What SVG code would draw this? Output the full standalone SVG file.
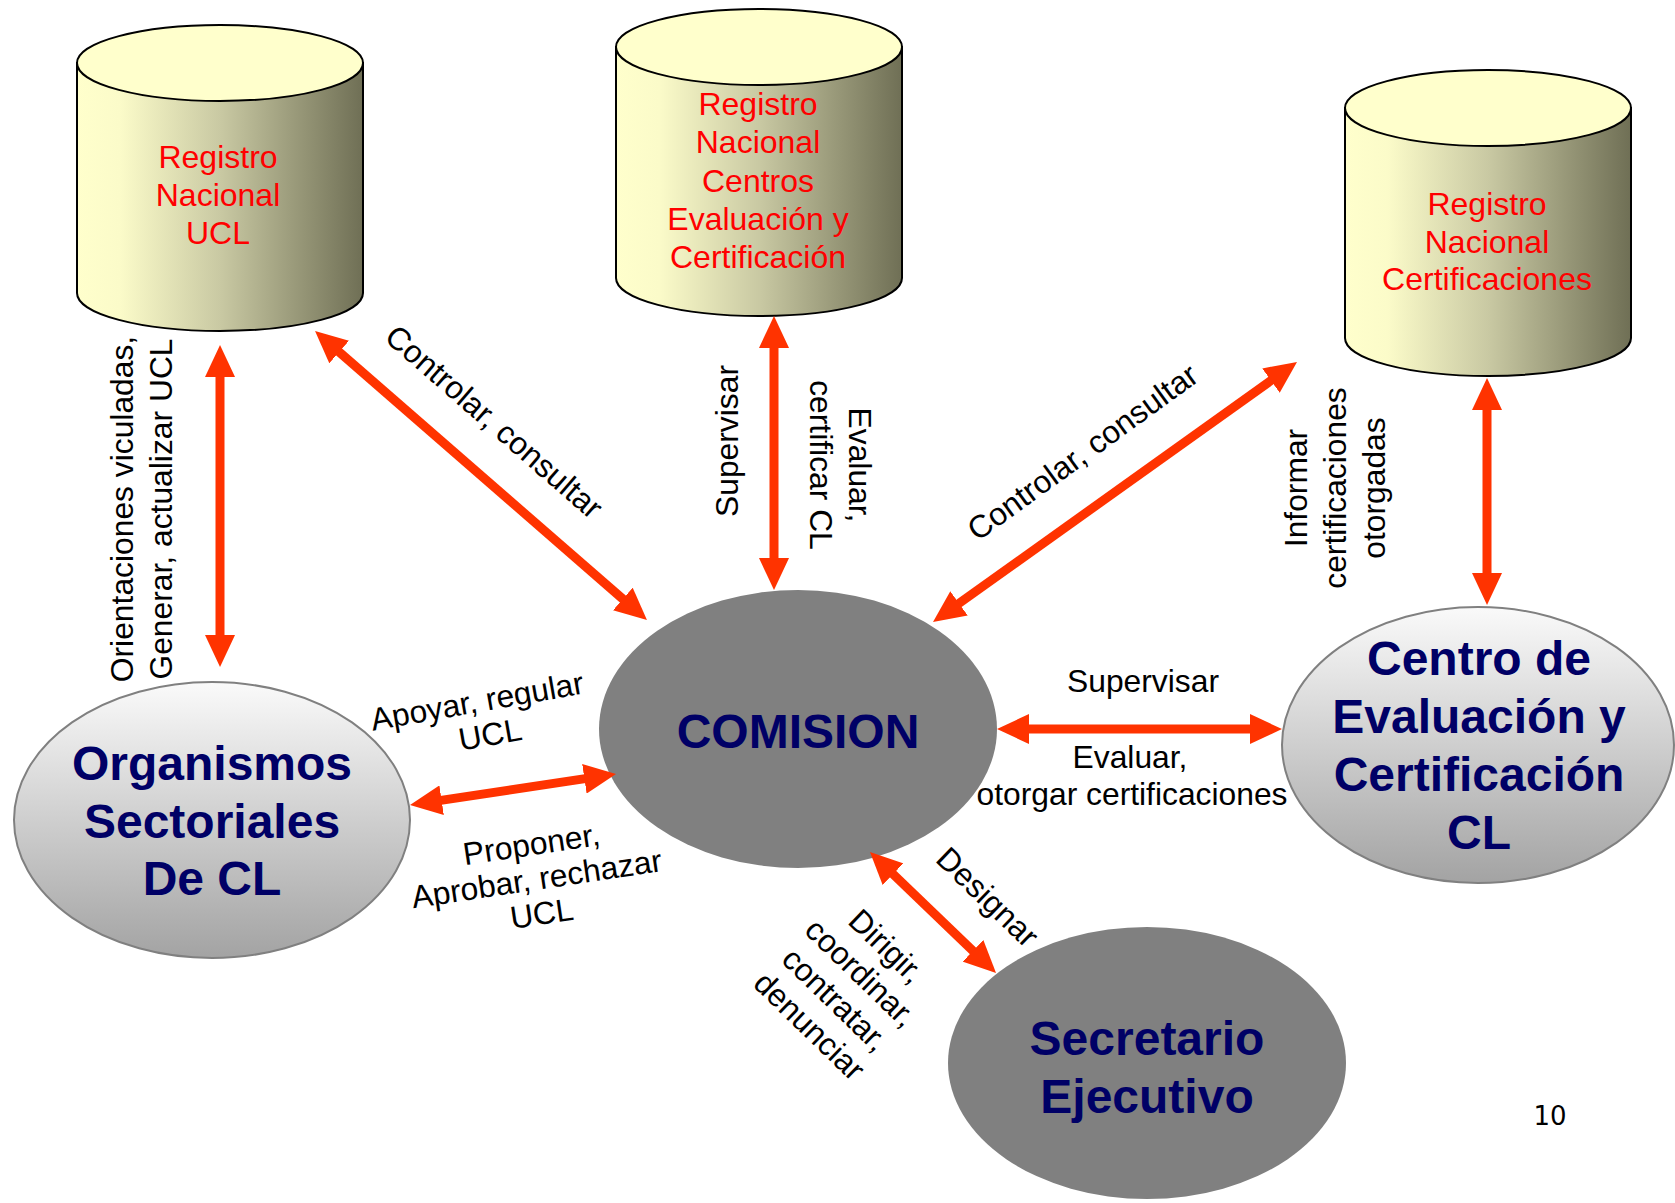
<svg xmlns="http://www.w3.org/2000/svg" width="1675" height="1203" viewBox="0 0 1675 1203">
<style>
.lbl{font-family:"Liberation Sans",Arial,sans-serif;font-size:31.8px;fill:#000}
.mid{text-anchor:middle}
.reg{font-family:"Liberation Sans",Arial,sans-serif;font-size:32px;fill:#FF0000;text-anchor:middle}
.node{font-family:"Liberation Sans",Arial,sans-serif;font-size:48px;font-weight:bold;fill:#000066;text-anchor:middle}
.cylbody{fill:url(#cylGrad);stroke:#000;stroke-width:2}
.cyltop{fill:#FFFFCC;stroke:#000;stroke-width:2}
.light{fill:url(#ellGrad);stroke:#808080;stroke-width:2}
.dark{fill:#808080}
.arr{stroke:#FF3300;stroke-width:9;fill:none;marker-start:url(#head);marker-end:url(#head)}
</style>
<defs>
<linearGradient id="cylGrad" x1="0" y1="0" x2="1" y2="0">
<stop offset="0" stop-color="#FFFFCC"/>
<stop offset="0.15" stop-color="#FBFBC9"/>
<stop offset="0.5" stop-color="#C9C9A3"/>
<stop offset="1" stop-color="#6F6F55"/>
</linearGradient>
<linearGradient id="ellGrad" x1="0" y1="0" x2="0" y2="1">
<stop offset="0" stop-color="#FAFAFA"/>
<stop offset="1" stop-color="#A3A3A3"/>
</linearGradient>
<marker id="head" viewBox="0 0 32 30" refX="16" refY="15" markerWidth="32" markerHeight="30" markerUnits="userSpaceOnUse" orient="auto-start-reverse">
<path d="M0,0 L32,15 L0,30 z" fill="#FF3300"/>
</marker>
</defs>

<g id="reg-ucl">
<path class="cylbody" d="M77,63 L77,293 A143,38 0 0 0 363,293 L363,63 z"/>
<ellipse class="cyltop" cx="220" cy="63" rx="143" ry="38"/>
<text class="reg"><tspan x="218" y="168">Registro</tspan><tspan x="218" y="206">Nacional</tspan><tspan x="218" y="244">UCL</tspan></text>
</g>

<g id="reg-centros">
<path class="cylbody" d="M616,47 L616,278 A143,38 0 0 0 902,278 L902,47 z"/>
<ellipse class="cyltop" cx="759" cy="47" rx="143" ry="38"/>
<text class="reg"><tspan x="758" y="115">Registro</tspan><tspan x="758" y="153">Nacional</tspan><tspan x="758" y="192">Centros</tspan><tspan x="758" y="230">Evaluación y</tspan><tspan x="758" y="268">Certificación</tspan></text>
</g>

<g id="reg-cert">
<path class="cylbody" d="M1345,108 L1345,338 A143,38 0 0 0 1631,338 L1631,108 z"/>
<ellipse class="cyltop" cx="1488" cy="108" rx="143" ry="38"/>
<text class="reg"><tspan x="1487" y="215">Registro</tspan><tspan x="1487" y="253">Nacional</tspan><tspan x="1487" y="290">Certificaciones</tspan></text>
</g>

<g id="comision">
<ellipse class="dark" cx="798" cy="729" rx="199" ry="139"/>
<text class="node" x="798" y="748">COMISION</text>
</g>

<g id="organismos">
<ellipse class="light" cx="212" cy="820" rx="198" ry="138"/>
<text class="node"><tspan x="212" y="780">Organismos</tspan><tspan x="212" y="838">Sectoriales</tspan><tspan x="212" y="895">De CL</tspan></text>
</g>

<g id="centro">
<ellipse class="light" cx="1478" cy="745" rx="196" ry="138"/>
<text class="node"><tspan x="1479" y="675">Centro de</tspan><tspan x="1479" y="733">Evaluación y</tspan><tspan x="1479" y="791">Certificación</tspan><tspan x="1479" y="849">CL</tspan></text>
</g>

<g id="secretario">
<ellipse class="dark" cx="1147" cy="1063" rx="199" ry="136"/>
<text class="node"><tspan x="1147" y="1055">Secretario</tspan><tspan x="1147" y="1113">Ejecutivo</tspan></text>
</g>

<g id="connectors">
<line class="arr" x1="220" y1="361" x2="220" y2="651"/>
<line class="arr" x1="327.1" y1="341.5" x2="634.9" y2="609.5"/>
<line class="arr" x1="774" y1="332" x2="774" y2="574"/>
<line class="arr" x1="946" y1="612.7" x2="1284" y2="371.3"/>
<line class="arr" x1="1487" y1="394" x2="1487" y2="589"/>
<line class="arr" x1="425.8" y1="802.6" x2="600.2" y2="776.4"/>
<line class="arr" x1="1013" y1="729" x2="1266" y2="729"/>
<line class="arr" x1="881.5" y1="863.1" x2="984.5" y2="961.9"/>
</g>

<g id="labels">
<text class="lbl mid" transform="translate(133,509) rotate(-90)"><tspan x="0" y="0">Orientaciones viculadas,</tspan><tspan x="0" y="39">Generar, actualizar UCL</tspan></text>
<text class="lbl mid" transform="translate(487,430) rotate(41)">Controlar, consultar</text>
<text class="lbl mid" transform="translate(738,441) rotate(-90)">Supervisar</text>
<text class="lbl mid" transform="translate(849,465) rotate(90)"><tspan x="0" y="0">Evaluar,</tspan><tspan x="0" y="39">certificar CL</tspan></text>
<text class="lbl mid" transform="translate(1089,461) rotate(-36)">Controlar, consultar</text>
<text class="lbl mid" transform="translate(1307,488) rotate(-90)"><tspan x="0" y="0">Informar</tspan><tspan x="0" y="39">certificaciones</tspan><tspan x="0" y="78">otorgadas</tspan></text>
<text class="lbl mid" transform="translate(479,712) rotate(-10)"><tspan x="0" y="0">Apoyar, regular</tspan><tspan x="7" y="35">UCL</tspan></text>
<text class="lbl mid" transform="translate(533,855) rotate(-8.5)"><tspan x="0" y="0">Proponer,</tspan><tspan x="0" y="35">Aprobar, rechazar</tspan><tspan x="0" y="70">UCL</tspan></text>
<text class="lbl mid" x="1143" y="692">Supervisar</text>
<text class="lbl mid"><tspan x="1130" y="768">Evaluar,</tspan><tspan x="1132" y="805">otorgar certificaciones</tspan></text>
<text class="lbl mid" transform="translate(980,905) rotate(44)">Designar</text>
<text class="lbl mid" transform="translate(879,954) rotate(44)"><tspan x="0" y="0">Dirigir,</tspan><tspan x="0" y="37">coordinar,</tspan><tspan x="0" y="74">contratar,</tspan><tspan x="0" y="111">denunciar</tspan></text>
<text x="1550" y="1125" style="font-family:'DejaVu Sans',Verdana,sans-serif;font-size:26px;fill:#000;text-anchor:middle">10</text>
</g>
</svg>
